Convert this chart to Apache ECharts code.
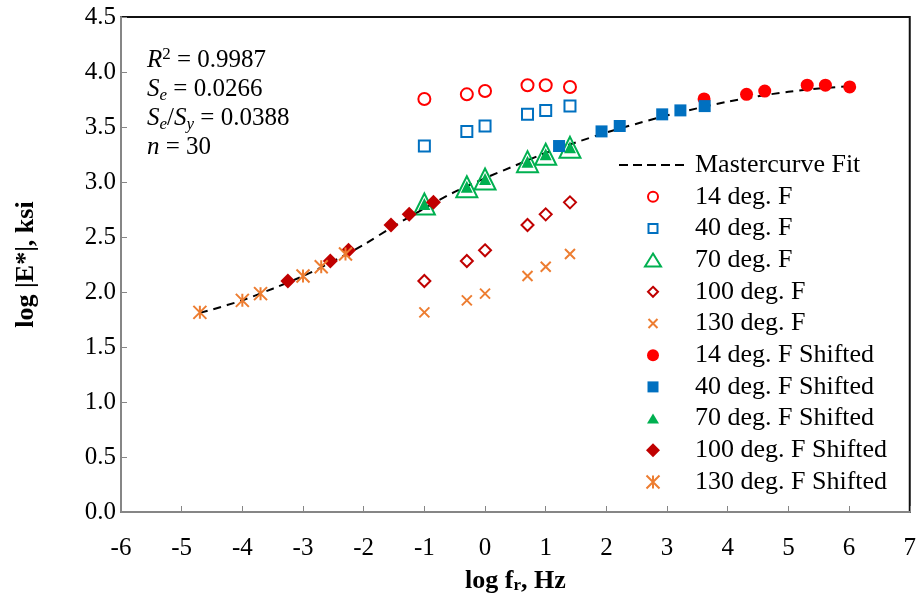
<!DOCTYPE html>
<html><head><meta charset="utf-8">
<script src="https://cdn.jsdelivr.net/npm/echarts@6/dist/echarts.min.js"></script>
<style>html,body{margin:0;padding:0;background:#fff}#c{width:919px;height:607px}</style>
</head><body><div id="c"></div>
<script>
// ---- data ----
const rawLogF = [-1, -0.3, 0, 0.7, 1, 1.4];
const e14 = [3.755, 3.797, 3.827, 3.88, 3.88, 3.864];
const e40 = [3.327, 3.46, 3.509, 3.615, 3.651, 3.69];
const e70 = [2.80, 2.957, 3.027, 3.185, 3.252, 3.315];
const e100 = [2.10, 2.282, 2.379, 2.609, 2.706, 2.815];
const e130 = [1.815, 1.924, 1.985, 2.145, 2.23, 2.345];
const x14s = [3.61, 4.31, 4.61, 5.31, 5.61, 6.01];
const x40s = [1.22, 1.92, 2.22, 2.92, 3.22, 3.62];
const x70s = [-1, -0.3, 0, 0.7, 1, 1.4];
const x100s = [-3.25, -2.55, -2.25, -1.55, -1.25, -0.85];
const x130s = [-4.7, -4.0, -3.7, -3.0, -2.7, -2.3];
const fitX = [-4.7, -4.5, -4.0, -3.5, -3.0, -2.5, -2.0, -1.5, -1.0, -0.5, 0, 0.5, 1.0, 1.5, 2.0, 2.5, 3.0, 3.5, 4.0, 4.5, 5.0, 5.5, 6.0];
const fitY = [1.81, 1.84, 1.925, 2.03, 2.145, 2.28, 2.43, 2.60, 2.76, 2.91, 3.035, 3.15, 3.265, 3.36, 3.45, 3.53, 3.605, 3.67, 3.73, 3.78, 3.82, 3.85, 3.87];
const seriesNames = ['Mastercurve Fit', '14 deg. F', '40 deg. F', '70 deg. F', '100 deg. F', '130 deg. F',
  '14 deg. F Shifted', '40 deg. F Shifted', '70 deg. F Shifted', '100 deg. F Shifted', '130 deg. F Shifted'];
const xRange = [-6, 7], yRange = [0, 4.5];

// ---- styles ----
const RED = '#FF0000', BLUE = '#0070C0', GREEN = '#00B050', DRED = '#C00000', ORANGE = '#ED7D31';
const FONT = "'Liberation Serif', 'Times New Roman', serif";
const X_PATH = 'path://M0,0L10,10M10,0L0,10';
const AST_PATH = 'path://M5,0L5,10M0,0L10,10M10,0L0,10';
const zip = (xs, ys) => xs.map((x, i) => [x, ys[i]]);
const clear = 'rgba(0,0,0,0)';

// legend icon paths, padded to the legend item box so they are not stretched
const LW = 74, LH = 16, CX = LW / 2, CY = LH / 2;
const pad = 'M0,0M' + LW + ',' + LH;
function rectP(x0, y0, w, h) { return `M${x0},${y0}L${x0 + w},${y0}L${x0 + w},${y0 + h}L${x0},${y0 + h}Z`; }
const icon = {
  circle: r => `path://${pad}M${CX + r},${CY}A${r},${r} 0 1,1 ${CX - r},${CY}A${r},${r} 0 1,1 ${CX + r},${CY}Z`,
  rect: s => `path://${pad}` + rectP(CX - s / 2, CY - s / 2, s, s),
  tri: (w, h) => `path://${pad}M${CX},${CY - h / 2}L${CX + w / 2},${CY + h / 2}L${CX - w / 2},${CY + h / 2}Z`,
  dia: d => `path://${pad}M${CX},${CY - d / 2}L${CX + d / 2},${CY}L${CX},${CY + d / 2}L${CX - d / 2},${CY}Z`,
  x: s => `path://${pad}M${CX - s / 2},${CY - s / 2}L${CX + s / 2},${CY + s / 2}M${CX + s / 2},${CY - s / 2}L${CX - s / 2},${CY + s / 2}`,
  ast: s => `path://${pad}M${CX},${CY - s / 2}L${CX},${CY + s / 2}M${CX - s / 2},${CY - s / 2}L${CX + s / 2},${CY + s / 2}M${CX + s / 2},${CY - s / 2}L${CX - s / 2},${CY + s / 2}`,
  dash: (x0, n, dw, gap) => `path://${pad}` + Array.from({ length: n }, (_, k) => rectP(x0 + k * (dw + gap), CY - 1, dw, 2)).join('')
};
const legendIcons = {
  'Mastercurve Fit': icon.dash(3, 5, 9, 5),
  '14 deg. F': icon.circle(5), '40 deg. F': icon.rect(9), '70 deg. F': icon.tri(16, 13), '100 deg. F': icon.dia(10), '130 deg. F': icon.x(9),
  '14 deg. F Shifted': icon.circle(6), '40 deg. F Shifted': icon.rect(11), '70 deg. F Shifted': icon.tri(12, 10), '100 deg. F Shifted': icon.dia(14), '130 deg. F Shifted': icon.ast(13)
};

function sc(name, xs, ys, symbol, size, itemStyle) {
  return { name, type: 'scatter', data: zip(xs, ys), symbol, symbolSize: size,
    itemStyle: Object.assign({ opacity: 1 }, itemStyle), emphasis: { disabled: true } };
}

const chart = echarts.init(document.getElementById('c'), null, { renderer: 'canvas' });
chart.setOption({
  animation: false,
  backgroundColor: '#fff',
  grid: { left: 121, right: 9, top: 17, bottom: 95, show: true, borderColor: '#111', borderWidth: 2, backgroundColor: 'transparent' },
  xAxis: {
    type: 'value', min: xRange[0], max: xRange[1], interval: 1,
    splitLine: { show: false },
    axisLine: { onZero: false, lineStyle: { color: '#868686', width: 2 } },
    axisTick: { inside: true, length: 6, lineStyle: { color: '#868686', width: 1 } },
    axisLabel: { color: '#000', fontFamily: FONT, fontSize: 25, margin: 24 },
    name: 'log f{sub|r}, Hz', nameLocation: 'middle', nameGap: 56,
    nameTextStyle: { color: '#000', fontFamily: FONT, fontSize: 26, fontWeight: 'bold',
      rich: { sub: { fontFamily: FONT, fontSize: 17, fontWeight: 'bold', color: '#000', verticalAlign: 'bottom', lineHeight: 14 } } }
  },
  yAxis: {
    type: 'value', min: yRange[0], max: yRange[1], interval: 0.5,
    splitLine: { show: false },
    axisLine: { onZero: false, lineStyle: { color: '#868686', width: 2 } },
    axisTick: { inside: true, length: 6, lineStyle: { color: '#868686', width: 1 } },
    axisLabel: { color: '#000', fontFamily: FONT, fontSize: 25, margin: 5, formatter: v => v.toFixed(1) },
    name: 'log |E*|, ksi', nameLocation: 'middle', nameGap: 82,
    nameTextStyle: { color: '#000', fontFamily: FONT, fontSize: 26, fontWeight: 'bold' }
  },
  legend: {
    orient: 'vertical', left: 610, top: 147, itemWidth: LW, itemHeight: LH, itemGap: 5.7,
    data: seriesNames.map(n => ({ name: n, icon: legendIcons[n] })),
    selectedMode: false,
    textStyle: { color: '#000', fontFamily: FONT, fontSize: 26 }
  },
  graphic: [{
    type: 'text', left: 147, top: 46,
    style: {
      text: '{i|R}{sup|2}{n| = 0.9987}\n{i|S}{sub|e}{n| = 0.0266}\n{i|S}{sub|e}{n|/}{i|S}{sub|y}{n| = 0.0388}\n{i|n}{n| = 30}',
      rich: {
        n: { fontFamily: FONT, fontSize: 25, lineHeight: 29, fill: '#000', verticalAlign: 'middle' },
        i: { fontFamily: FONT, fontSize: 25, fontStyle: 'italic', lineHeight: 29, fill: '#000', verticalAlign: 'middle' },
        sub: { fontFamily: FONT, fontSize: 17, fontStyle: 'italic', lineHeight: 14, fill: '#000', verticalAlign: 'bottom' },
        sup: { fontFamily: FONT, fontSize: 17, lineHeight: 14, fill: '#000', verticalAlign: 'top' }
      }
    }
  }],
  series: [
    { name: 'Mastercurve Fit', type: 'line', data: zip(fitX, fitY), symbol: 'none', showSymbol: false, smooth: 0.3,
      lineStyle: { color: '#000', width: 2, type: [8, 6] }, itemStyle: { color: '#000' }, z: 1, emphasis: { disabled: true } },
    sc('14 deg. F', rawLogF, e14, 'circle', 12, { color: clear, borderColor: RED, borderWidth: 2 }),
    sc('40 deg. F', rawLogF, e40, 'rect', 11, { color: clear, borderColor: BLUE, borderWidth: 2 }),
    sc('70 deg. F', rawLogF, e70, 'triangle', 21, { color: clear, borderColor: GREEN, borderWidth: 2 }),
    sc('100 deg. F', rawLogF, e100, 'diamond', 12, { color: clear, borderColor: DRED, borderWidth: 2 }),
    sc('130 deg. F', rawLogF, e130, X_PATH, 10, { color: clear, borderColor: ORANGE, borderWidth: 2 }),
    sc('14 deg. F Shifted', x14s, e14, 'circle', 13, { color: RED }),
    sc('40 deg. F Shifted', x40s, e40, 'rect', 12, { color: BLUE }),
    sc('70 deg. F Shifted', x70s, e70, 'triangle', 12, { color: GREEN }),
    sc('100 deg. F Shifted', x100s, e100, 'diamond', 15, { color: DRED }),
    sc('130 deg. F Shifted', x130s, e130, AST_PATH, 13, { color: clear, borderColor: ORANGE, borderWidth: 2 })
  ]
});
</script></body></html>
